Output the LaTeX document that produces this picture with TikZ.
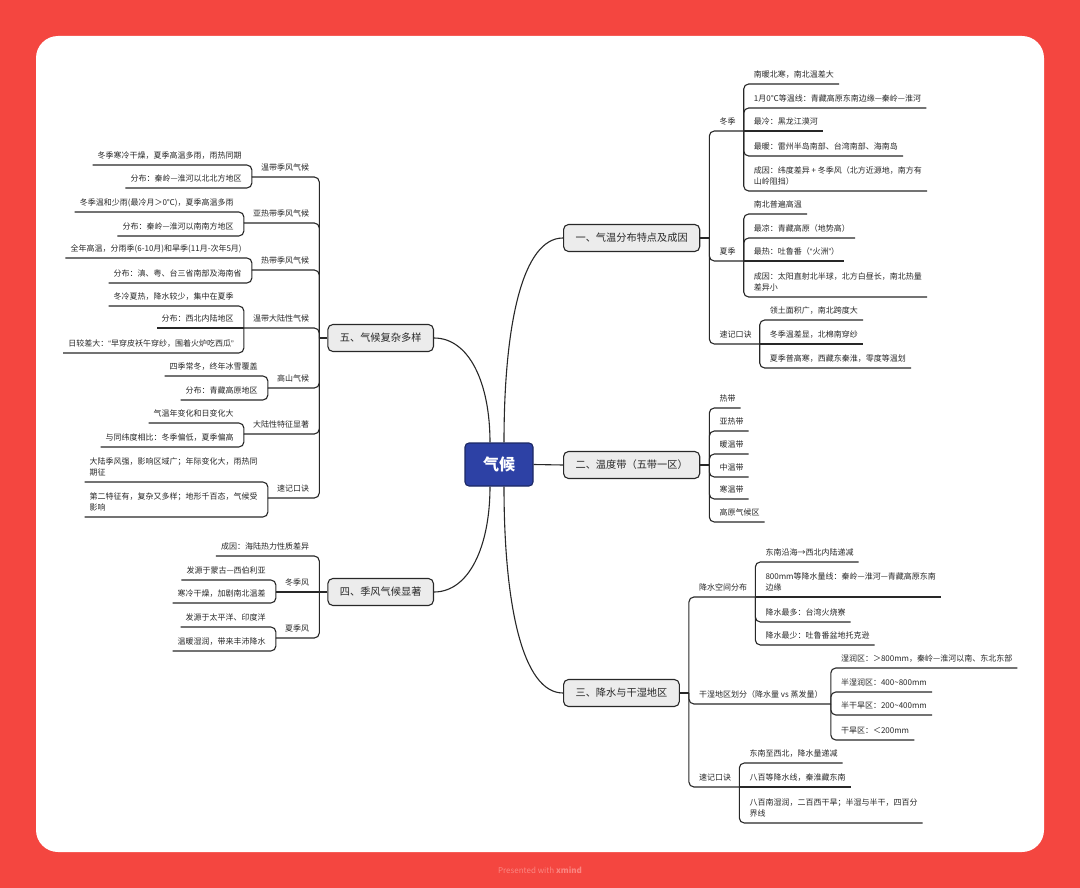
\documentclass[tikz,border=0pt]{standalone}
\usepackage{fontspec}
\setmainfont{Noto Sans CJK SC}
\newfontfamily\qfont{Liberation Sans}
\newcommand\myoq{{\qfont “}}
\newcommand\mycq{{\qfont ”}}
\usetikzlibrary{calc}
\definecolor{bgred}{RGB}{244,70,64}
\definecolor{ink}{RGB}{40,40,40}
\definecolor{boxfill}{RGB}{236,236,236}
\definecolor{hub}{RGB}{45,65,165}
\definecolor{footer}{RGB}{250,135,130}
\newcommand\leaffont{\fontsize{8}{11.5}\selectfont}
\newcommand\boxfont{\fontsize{10.2}{12}\selectfont}
\newcommand\hubfont{\fontsize{16}{18}\selectfont\bfseries}
\tikzset{
  tp/.style={font=\leaffont, text=ink, inner ysep=2.55pt, align=left, execute at end node={\strut}},
  lR/.style={tp, anchor=south west, xshift=5pt, inner xsep=5pt},
  lL/.style={tp, anchor=south east, xshift=-5pt, inner xsep=5pt},
  mR/.style={tp, anchor=south west, xshift=2pt, inner xsep=8pt},
  mL/.style={tp, anchor=south east, xshift=-1pt, inner xsep=9pt},
  conn/.style={draw=ink, line width=1.1pt, rounded corners=5pt},
  curve/.style={draw=ink, line width=1.1pt},
  mainbox/.style={draw=ink, fill=boxfill, rounded corners=5pt, line width=1.1pt, minimum height=27pt, inner xsep=12pt, inner ysep=2pt, font=\boxfont, text=ink},
  hubbox/.style={draw=hub!60!black, fill=hub, rounded corners=4pt, line width=1.1pt, minimum width=68pt, minimum height=43pt, font=\hubfont, text=white},
}
\begin{document}
\begin{tikzpicture}[x=1pt,y=-1pt]
\useasboundingbox (0,0) rectangle (1080,888);
\fill[bgred] (0,0) rectangle (1080,888);
\fill[white, rounded corners=22pt] (36,36) rectangle (1044,852);
\node[font=\fontsize{8}{10}\selectfont, text=footer] (ft) at (540,870) {Presented with \textbf{xmind}};

% hub
\node[hubbox] (c) at (499,464.5) {气候};

% ===== branch 1 =====
\node[mainbox, anchor=west] (b1) at (563,238) {一、气温分布特点及成因};
\coordinate (s1) at ([xshift=9pt]b1.east);
\node[mR] (w1) at (s1 |- 0,131) {冬季};
\node[mR] (w2) at (s1 |- 0,261) {夏季};
\node[mR] (w3) at (s1 |- 0,344) {速记口诀};
\node[lR] (w1a) at (w1.south east |- 0,84) {南暖北寒，南北温差大};
\node[lR] (w1b) at (w1.south east |- 0,108) {1月0℃等温线：青藏高原东南边缘—秦岭—淮河};
\node[lR] (w1c) at (w1.south east |- 0,131) {最冷：黑龙江漠河};
\node[lR] (w1d) at (w1.south east |- 0,156) {最暖：雷州半岛南部、台湾南部、海南岛};
\node[lR] (w1e) at (w1.south east |- 0,191) {成因：纬度差异 + 冬季风（北方近源地，南方有\\山岭阻挡）};
\node[lR] (w2a) at (w2.south east |- 0,214) {南北普遍高温};
\node[lR] (w2b) at (w2.south east |- 0,238) {最凉：青藏高原（地势高）};
\node[lR] (w2c) at (w2.south east |- 0,261) {最热：吐鲁番（\myoq 火洲\mycq）};
\node[lR] (w2d) at (w2.south east |- 0,297) {成因：太阳直射北半球，北方白昼长，南北热量\\差异小};
\node[lR] (w3a) at (w3.south east |- 0,320) {领土面积广，南北跨度大};
\node[lR] (w3b) at (w3.south east |- 0,344) {冬季温差显，北棉南穿纱};
\node[lR] (w3c) at (w3.south east |- 0,368) {夏季普高寒，西藏东秦淮，零度等温划};

% ===== branch 2 =====
\node[mainbox, anchor=west] (b2) at (563,465) {二、温度带（五带一区）};
\coordinate (s2) at ([xshift=9pt]b2.east);
\node[lR] (t1) at (s2 |- 0,408) {热带};
\node[lR] (t2) at (s2 |- 0,431) {亚热带};
\node[lR] (t3) at (s2 |- 0,454) {暖温带};
\node[lR] (t4) at (s2 |- 0,477) {中温带};
\node[lR] (t5) at (s2 |- 0,499) {寒温带};
\node[lR] (t6) at (s2 |- 0,522) {高原气候区};

% ===== branch 3 =====
\node[mainbox, anchor=west] (b3) at (563,693) {三、降水与干湿地区};
\coordinate (s3) at ([xshift=9pt]b3.east);
\node[mR] (p1) at (s3 |- 0,597) {降水空间分布};
\node[mR] (p2) at (s3 |- 0,704) {干湿地区划分（降水量 vs 蒸发量）};
\node[mR] (p3) at (s3 |- 0,787) {速记口诀};
\node[lR] (p1a) at (p1.south east |- 0,562) {东南沿海→西北内陆递减};
\node[lR] (p1b) at (p1.south east |- 0,597) {800mm等降水量线：秦岭—淮河—青藏高原东南\\边缘};
\node[lR] (p1c) at (p1.south east |- 0,622) {降水最多：台湾火烧寮};
\node[lR] (p1d) at (p1.south east |- 0,645) {降水最少：吐鲁番盆地托克逊};
\node[lR] (p2a) at (p2.south east |- 0,668) {湿润区：＞800mm，秦岭—淮河以南、东北东部};
\node[lR] (p2b) at (p2.south east |- 0,692) {半湿润区：400\textasciitilde800mm};
\node[lR] (p2c) at (p2.south east |- 0,715) {半干旱区：200\textasciitilde400mm};
\node[lR] (p2d) at (p2.south east |- 0,740) {干旱区：＜200mm};
\node[lR] (p3a) at (p3.south east |- 0,763) {东南至西北，降水量递减};
\node[lR] (p3b) at (p3.south east |- 0,787) {八百等降水线，秦淮藏东南};
\node[lR] (p3c) at (p3.south east |- 0,823) {八百南湿润，二百西干旱；半湿与半干，四百分\\界线};

% ===== branch 5 =====
\node[mainbox, anchor=east] (b5) at (434,338) {五、气候复杂多样};
\coordinate (s5) at ([xshift=-8pt]b5.west);
\node[mL] (m1) at (s5 |- 0,177) {温带季风气候};
\node[mL] (m2) at (s5 |- 0,223) {亚热带季风气候};
\node[mL] (m3) at (s5 |- 0,270) {热带季风气候};
\node[mL] (m4) at (s5 |- 0,328) {温带大陆性气候};
\node[mL] (m5) at (s5 |- 0,388) {高山气候};
\node[mL] (m6) at (s5 |- 0,434) {大陆性特征显著};
\node[mL] (m7) at (s5 |- 0,498) {速记口诀};
\node[lL] (m1a) at (m1.south west |- 0,165) {冬季寒冷干燥，夏季高温多雨，雨热同期};
\node[lL] (m1b) at (m1.south west |- 0,188) {分布：秦岭—淮河以北北方地区};
\node[lL] (m2a) at (m2.south west |- 0,212) {冬季温和少雨(最冷月＞0℃)，夏季高温多雨};
\node[lL] (m2b) at (m2.south west |- 0,236) {分布：秦岭—淮河以南南方地区};
\node[lL] (m3a) at (m3.south west |- 0,258) {全年高温，分雨季(6-10月)和旱季(11月-次年5月)};
\node[lL] (m3b) at (m3.south west |- 0,283) {分布：滇、粤、台三省南部及海南省};
\node[lL] (m4a) at (m4.south west |- 0,306) {冬冷夏热，降水较少，集中在夏季};
\node[lL] (m4b) at (m4.south west |- 0,328) {分布：西北内陆地区};
\node[lL] (m4c) at (m4.south west |- 0,353) {日较差大：\myoq 早穿皮袄午穿纱，围着火炉吃西瓜\mycq};
\node[lL] (m5a) at (m5.south west |- 0,376) {四季常冬，终年冰雪覆盖};
\node[lL] (m5b) at (m5.south west |- 0,400) {分布：青藏高原地区};
\node[lL] (m6a) at (m6.south west |- 0,423) {气温年变化和日变化大};
\node[lL] (m6b) at (m6.south west |- 0,447) {与同纬度相比：冬季偏低，夏季偏高};
\node[lL] (m7a) at (m7.south west |- 0,482) {大陆季风强，影响区域广；年际变化大，雨热同\\期征};
\node[lL] (m7b) at (m7.south west |- 0,517) {第二特征有，复杂又多样；地形千百态，气候受\\影响};

% ===== branch 4 =====
\node[mainbox, anchor=east] (b4) at (434,592) {四、季风气候显著};
\coordinate (s4) at ([xshift=-8pt]b4.west);
\node[lL] (n0) at (s4 |- 0,556) {成因：海陆热力性质差异};
\node[mL] (n1) at (s4 |- 0,592) {冬季风};
\node[mL] (n2) at (s4 |- 0,638) {夏季风};
\node[lL] (n1a) at (n1.south west |- 0,580) {发源于蒙古—西伯利亚};
\node[lL] (n1b) at (n1.south west |- 0,603) {寒冷干燥，加剧南北温差};
\node[lL] (n2a) at (n2.south west |- 0,627) {发源于太平洋、印度洋};
\node[lL] (n2b) at (n2.south west |- 0,651) {温暖湿润，带来丰沛降水};

% ===== hub connectors =====
\draw[curve] ([xshift=5pt]c.north) .. controls +(0,-120) and +(-40,0) .. (b1.west);
\draw[curve] (c.east) -- (b2.west);
\draw[curve] ([xshift=5pt]c.south) .. controls +(0,120) and +(-40,0) .. (b3.west);
\draw[curve] ([xshift=-9pt]c.north) .. controls +(0,-60) and +(35,0) .. (b5.east);
\draw[curve] ([xshift=-9pt]c.south) .. controls +(0,60) and +(35,0) .. (b4.east);

% ===== main spines =====
\draw[conn] (b1.east) -- (s1);
\draw[conn] (s1) |- (w1.south east);
\draw[conn] (s1) |- (w2.south east);
\draw[conn] (s1) |- (w3.south east);
\draw[conn] (b2.east) -- (s2);
\foreach \q in {t1,t2,t3,t4,t5,t6} \draw[conn] (s2) |- (\q.south east);
\draw[conn] (b3.east) -- (s3);
\foreach \q in {p1,p2,p3} \draw[conn] (s3) |- (\q.south east);
\draw[conn] (b5.west) -- (s5);
\foreach \q in {m1,m2,m3,m4,m5,m6,m7} \draw[conn] (s5) |- (\q.south west);
\draw[conn] (b4.west) -- (s4);
\draw[conn] (s4) |- (n0.south west);
\draw[conn] (s4) -- (n1.south west);
\draw[conn] (s4) |- (n2.south west);

% ===== sub connectors, right =====
\foreach \p/\q in {w1/w1a,w1/w1b,w1/w1d,w1/w1e,w2/w2a,w2/w2b,w2/w2d,w3/w3a,w3/w3c,
  p1/p1a,p1/p1c,p1/p1d,p2/p2a,p2/p2b,p2/p2c,p2/p2d,p3/p3a,p3/p3c}
  \draw[conn] (\p.south east) |- (\q.south east);
\foreach \p/\q in {w1/w1c,w2/w2c,w3/w3b,p1/p1b,p3/p3b}
  \draw[conn] (\p.south east) -- (\q.south east);

% ===== sub connectors, left =====
\foreach \p/\q in {m1/m1a,m1/m1b,m2/m2a,m2/m2b,m3/m3a,m3/m3b,m4/m4a,m4/m4c,m5/m5a,m5/m5b,
  m6/m6a,m6/m6b,m7/m7a,m7/m7b,n1/n1a,n1/n1b,n2/n2a,n2/n2b}
  \draw[conn] (\p.south west) |- (\q.south west);
\draw[conn] (m4.south west) -- (m4b.south west);
\end{tikzpicture}
\end{document}
